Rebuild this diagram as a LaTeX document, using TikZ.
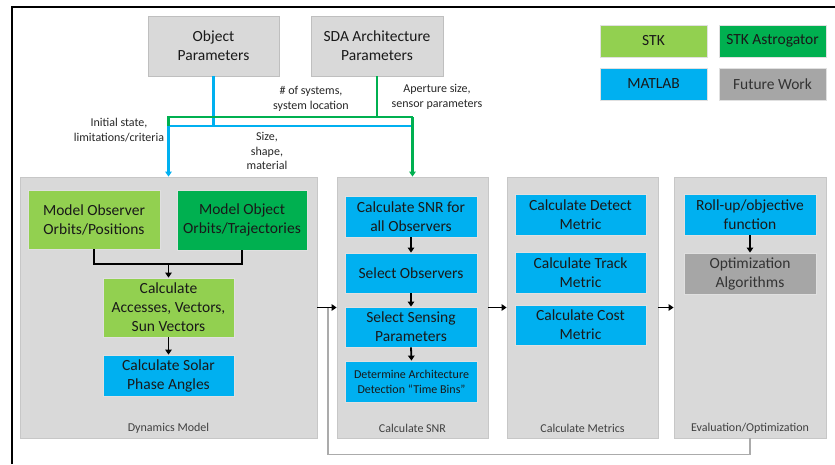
\documentclass[tikz,border=0pt]{standalone}
\usepackage{fontspec}
\setmainfont{Carlito}
\usepackage{tikz}
\usetikzlibrary{
  positioning,
  calc,
  arrows.meta
}
\definecolor{stkGreen}{HTML}{92D050}
\definecolor{astroGreen}{HTML}{00B050}
\definecolor{matBlue}{HTML}{00B0F0}
\definecolor{futGray}{HTML}{A6A6A6}
\definecolor{panelGray}{HTML}{D9D9D9}
\newcommand{\bigtxt}{\fontsize{15.5}{19}\selectfont}
\newcommand{\smalltxt}{\fontsize{12}{14.5}\selectfont}
\tikzstyle{panel}=[draw=black!22, fill=panelGray, line width=0.8pt]
\tikzstyle{blk}=[draw=black!12, line width=0.8pt, align=center, inner sep=0pt, text=black!90, font=\bigtxt]
\tikzstyle{stk}=[blk, fill=stkGreen]
\tikzstyle{astro}=[blk, fill=astroGreen]
\tikzstyle{mat}=[blk, fill=matBlue]
\tikzstyle{fut}=[blk, fill=futGray]
\tikzstyle{param}=[blk, fill=panelGray, draw=black!25]
\tikzstyle{lbl}=[align=center, inner sep=0pt, font=\smalltxt, text=black!85]
\tikzstyle{plbl}=[inner sep=0pt, font=\smalltxt, text=black!75]
\tikzstyle{flow}=[line width=1.8pt, -{Triangle[length=5pt,width=6.5pt]}]
\tikzstyle{bline}=[matBlue, line width=2.2pt]
\tikzstyle{gline}=[astroGreen, line width=2.2pt]
\tikzstyle{fbline}=[black!33, line width=1.8pt]

\begin{document}
\begin{tikzpicture}[x=1pt, y=-1pt]
  \useasboundingbox (0,0) rectangle (835,464);

  % 外枠
  \draw[line width=1.6pt] (12,464) -- (12,7) -- (835,7);

  % 入力パラメータ
  \node[param, minimum width=131, minimum height=60] (objpar) at (213.5,46) {Object\\Parameters};
  \node[param, minimum width=132, minimum height=60] (sdapar) at (377,46) {SDA Architecture\\Parameters};

  % 凡例
  \node[stk, minimum width=107, minimum height=32] (legStk) at (653.5,41) {STK};
  \node[astro, minimum width=107, minimum height=32] (legAstro) at (772.5,41) {STK Astrogator};
  \node[mat, minimum width=107, minimum height=32] (legMat) at (653.5,84) {MATLAB};
  \node[fut, minimum width=107, minimum height=32, text=black!80] (legFut) at (772.5,84) {Future Work};

  % 各ブロックの枠
  \node[panel, minimum width=297, minimum height=261] (dyn) at (168.5,307.5) {};
  \node[panel, minimum width=151, minimum height=261] (snr) at (412.5,307.5) {};
  \node[panel, minimum width=151, minimum height=261] (met) at (582.5,307.5) {};
  \node[panel, minimum width=152, minimum height=261] (evl) at (750,307.5) {};

  % ブロック名
  \node[plbl] (dynName) at (168.5,428) {Dynamics Model};
  \node[plbl] (snrName) at (412.5,428) {Calculate SNR};
  \node[plbl] (metName) at (582.5,428) {Calculate Metrics};
  \node[plbl] (evlName) at (750,428) {Evaluation/Optimization};

  % Dynamics Model
  \node[stk, minimum width=132, minimum height=59] (obsOrb) at (94,219.5) {Model Observer\\Orbits/Positions};
  \node[astro, minimum width=130, minimum height=60] (objOrb) at (242,220) {Model Object\\Orbits/Trajectories};
  \node[stk, minimum width=131, minimum height=59] (access) at (168.5,307.5) {Calculate\\Accesses, Vectors,\\Sun Vectors};
  \node[mat, minimum width=131, minimum height=41] (solar) at (168.5,375.5) {Calculate Solar\\Phase Angles};
  \coordinate (mrg) at (168.5,264);
  \draw[line width=1.8pt] (obsOrb.south) |- (mrg) -| (objOrb.south);
  \draw[flow] (mrg) -- (access.north);
  \draw[flow] (access.south) -- (solar.north);

  % Calculate SNR
  \node[mat, minimum width=132, minimum height=41] (snrAll) at (411,216.5) {Calculate SNR for\\all Observers};
  \node[mat, minimum width=132, minimum height=40] (selObs) at (411,273) {Select Observers};
  \node[mat, minimum width=132, minimum height=40] (selSens) at (411,327) {Select Sensing\\Parameters};
  \node[mat, minimum width=132, minimum height=41, font=\fontsize{12}{15}\selectfont] (timeBins) at (411.5,381.5) {Determine Architecture\\Detection “Time Bins”};
  \draw[flow] (snrAll.south) -- (selObs.north);
  \draw[flow] (selObs.south) -- (selSens.north);
  \draw[flow] (selSens.south) -- (timeBins.north);

  % Calculate Metrics
  \node[mat, minimum width=131, minimum height=41] (detect) at (580.5,214.5) {Calculate Detect\\Metric};
  \node[mat, minimum width=131, minimum height=41] (track) at (580.5,272.5) {Calculate Track\\Metric};
  \node[mat, minimum width=131, minimum height=40] (cost) at (580.5,325) {Calculate Cost\\Metric};

  % Evaluation/Optimization
  \node[mat, minimum width=132, minimum height=41] (rollup) at (750,214.5) {Roll-up/objective\\function};
  \node[fut, minimum width=132, minimum height=41, text=black!80] (optAlg) at (750,273.5) {Optimization\\Algorithms};
  \draw[flow] (rollup.south) -- (optAlg.north);

  % フィードバック
  \coordinate (fbIn) at (328,307.5);
  \draw[fbline] (evl.south) -- ++(0,16) -| (fbIn);

  % ブロック間の矢印
  \draw[flow] (dyn.east) -- (snr.west);
  \draw[flow] (snr.east) -- (met.west);
  \draw[flow] (met.east) -- (evl.west);

  % パラメータからの線
  \coordinate (bl) at (168.5,126);
  \coordinate (br) at (412.5,126);
  \coordinate (gl) at (168.5,117);
  \coordinate (gr) at (412.5,117);
  \draw[bline] (objpar.south) |- (bl) -- (br);
  \draw[gline] (bl) -- (gl) -- (gr);
  \draw[gline] (sdapar.south) -- (sdapar.south |- gr);
  \draw[bline, -{Triangle[length=5pt,width=6.5pt]}] (bl) -- (dyn.north);
  \draw[gline, -{Triangle[length=5pt,width=6.5pt]}] (gr) -- (snr.north);

  % 線のラベル
  \node[lbl] (lInit) at (119,130) {Initial state,\\limitations/criteria};
  \node[lbl] (lNum) at (311,99) {\# of systems,\\system location};
  \node[lbl] (lAper) at (437,97) {Aperture size,\\sensor parameters};
  \node[lbl] (lSize) at (267,151) {Size,\\shape,\\material};
\end{tikzpicture}
\end{document}
